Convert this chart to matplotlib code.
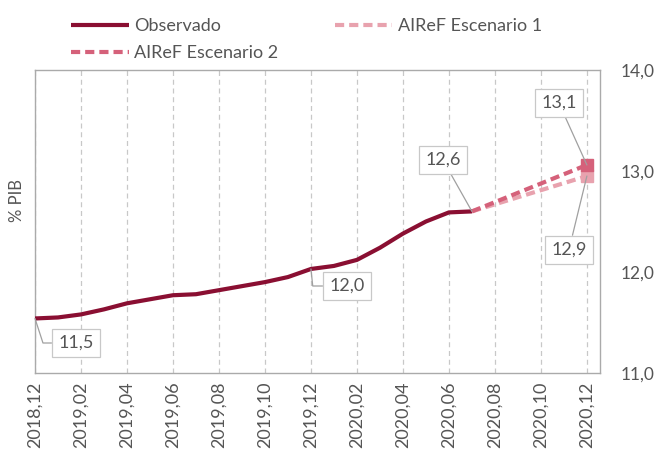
import numpy as np
import matplotlib.pyplot as plt

plt.rcParams['font.family'] = ['Lato', 'DejaVu Sans']

# months since 2018-12
months = list(range(0, 20))
observado = [11.54, 11.55, 11.58, 11.63, 11.69, 11.73, 11.77, 11.78, 11.82, 11.86,
             11.90, 11.95, 12.03, 12.06, 12.12, 12.24, 12.38, 12.50, 12.59, 12.60]
esc_months = [19, 24]
escenario1 = [12.60, 12.95]
escenario2 = [12.60, 13.06]

tick_pos = list(range(0, 25, 2))
tick_labels = ['2018,12', '2019,02', '2019,04', '2019,06', '2019,08', '2019,10', '2019,12',
               '2020,02', '2020,04', '2020,06', '2020,08', '2020,10', '2020,12']

c_obs = '#8a0f32'
c_e1 = '#e8a2ae'
c_e2 = '#d5617a'
c_txt = '#555555'
c_grid = '#c8c8c8'

W, H = 658, 454
fig = plt.figure(figsize=(W / 100, H / 100), dpi=100)
ax = fig.add_axes([35 / W, 1 - 373 / H, (600 - 35) / W, (373 - 70) / H])

ax.plot(months, observado, color=c_obs, lw=3, solid_capstyle='butt', label='Observado', zorder=4)
ax.plot(esc_months, escenario1, color=c_e1, lw=3, ls=(0, (2.2, 1.2)), label='AIReF Escenario 1', zorder=3)
ax.plot(esc_months, escenario2, color=c_e2, lw=3, ls=(0, (2.2, 1.2)), label='AIReF Escenario 2', zorder=3)
ax.plot(esc_months[-1], escenario1[-1], marker='s', ms=8, color=c_e1, ls='none', zorder=3)
ax.plot(esc_months[-1], escenario2[-1], marker='s', ms=8, color=c_e2, ls='none', zorder=3)

ax.set_xlim(0, 24.57)
ax.set_ylim(11, 14)
ax.set_xticks(tick_pos)
ax.set_xticklabels(tick_labels, rotation=90)
ax.set_yticks([11, 12, 13, 14])
ax.set_yticklabels(['11,0', '12,0', '13,0', '14,0'])
ax.yaxis.tick_right()
ax.tick_params(axis='both', length=0, labelsize=13, colors=c_txt)
ax.tick_params(axis='y', pad=15, labelsize=12.5)
ax.tick_params(axis='x', pad=6)
ax.grid(axis='x', color=c_grid, ls=(0, (4, 3)), lw=0.9)
for s in ax.spines.values():
    s.set_color('#aaaaaa')
    s.set_linewidth(1)

fig.text(17 / W, 1 - 200 / H, '% PIB', rotation=90, ha='center', va='center',
         fontsize=12, color=c_txt)

box = dict(boxstyle='square,pad=0.35', fc='white', ec=c_grid, lw=0.9)
arrow = dict(arrowstyle='-', color='#a0a0a0', lw=0.9, shrinkA=0, shrinkB=0)


def px(x, y):
    return (x - 35) / 23, 11 + (373 - y) / 101


ax.annotate('11,5', xy=(0, observado[0]), xytext=px(76, 343), ha='center', va='center',
            fontsize=13, color=c_txt, bbox=box, zorder=6,
            arrowprops=dict(arrow, connectionstyle='angle,angleA=0,angleB=-72,rad=0'))
ax.annotate('12,0', xy=(12, observado[12]), xytext=px(347, 286), ha='center', va='center',
            fontsize=13, color=c_txt, bbox=box, zorder=6,
            arrowprops=dict(arrow, connectionstyle='angle,angleA=0,angleB=-84,rad=0'))
ax.annotate('12,6', xy=(19, observado[19]), xytext=px(443, 160), ha='center', va='center',
            fontsize=13, color=c_txt, bbox=box, zorder=6, arrowprops=arrow)
ax.annotate('13,1', xy=(24, escenario2[-1]), xytext=px(559, 103), ha='center', va='center',
            fontsize=13, color=c_txt, bbox=box, zorder=6, arrowprops=arrow)
ax.annotate('12,9', xy=(24, escenario1[-1]), xytext=px(569, 250), ha='center', va='center',
            fontsize=13, color=c_txt, bbox=box, zorder=6, arrowprops=arrow)

h, l = ax.get_legend_handles_labels()
order = [0, 2, 1]
fig.legend([h[i] for i in order], [l[i] for i in order], ncol=2, loc='upper left',
           bbox_to_anchor=(55 / W, 1 - 2 / H), frameon=False, fontsize=13,
           labelcolor=c_txt, handlelength=3.2, handletextpad=0.3, columnspacing=3.1,
           labelspacing=0.6)

fig.savefig('out.png', dpi=100)
